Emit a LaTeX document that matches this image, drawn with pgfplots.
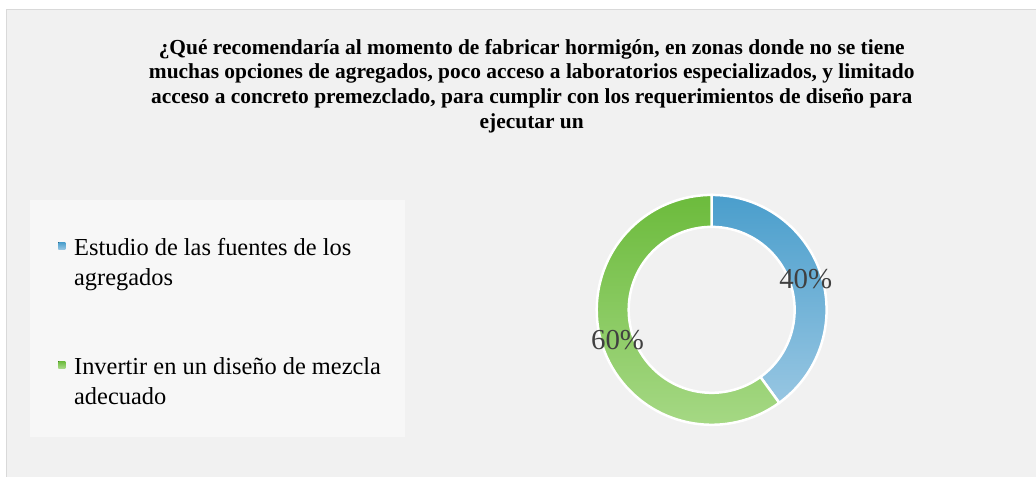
\documentclass[border=0pt]{standalone}
\usepackage{fontspec}
\setmainfont{Liberation Serif}
\usepackage{pgfplots}
\usepackage{pgfplotstable}
\pgfplotsset{compat=1.18}

\definecolor{bgc}{HTML}{F1F1F1}
\definecolor{bordc}{HTML}{D9D9D9}
\definecolor{legc}{HTML}{F7F7F7}
\definecolor{blueA}{HTML}{4A9ECC}
\definecolor{blueB}{HTML}{97C6E2}
\definecolor{greenA}{HTML}{6CBB3C}
\definecolor{greenB}{HTML}{A9DA89}
\definecolor{lblc}{HTML}{404040}

% share of answers, percent
\pgfplotstableread{
label value
Estudio 40
Invertir 60
}\donutdata

\begin{document}
\begin{tikzpicture}
\begin{axis}[
    width=1036bp, height=477bp, scale only axis,
    xmin=0, xmax=1036, ymin=0, ymax=477,
    hide axis, clip=false,
]
% background and frame
\fill[white] (axis cs:0,0) rectangle (axis cs:1036,477);
\fill[bgc] (axis cs:7,0) rectangle (axis cs:1036,467);
\draw[bordc, line width=1bp] (axis cs:7,0) -- (axis cs:7,467) -- (axis cs:1036,467);

% title
\node[align=center, font=\bfseries\fontsize{21.5}{24.7}\selectfont, text=black]
  at (axis cs:532,391) {¿Qué recomendaría al momento de fabricar hormigón, en zonas donde no se tiene\\
  muchas opciones de agregados, poco acceso a laboratorios especializados, y limitado\\
  acceso a concreto premezclado, para cumplir con los requerimientos de diseño para\\
  ejecutar un};

% legend
\fill[legc] (axis cs:30,40) rectangle (axis cs:405,277);
\fill[top color=blueA, bottom color=blueB] (axis cs:58.5,227.5) rectangle (axis cs:65.5,234.5);
\fill[top color=greenA, bottom color=greenB] (axis cs:58.5,108.5) rectangle (axis cs:65.5,115.5);
\node[anchor=west, align=left, inner sep=0pt, font=\fontsize{24.5}{30}\selectfont]
  at (axis cs:74,212) {Estudio de las fuentes de los\\agregados};
\node[anchor=west, align=left, inner sep=0pt, font=\fontsize{24.5}{30}\selectfont]
  at (axis cs:74,96) {Invertir en un diseño de mezcla\\adecuado};

% donut
\pgfplotstablegetelem{0}{value}\of\donutdata \let\va\pgfplotsretval
\pgfplotstablegetelem{1}{value}\of\donutdata \let\vb\pgfplotsretval
\pgfmathsetmacro\angA{90-3.6*\va}
\pgfmathsetmacro\angB{\angA-3.6*\vb}
\pgfmathsetmacro\midA{(90+\angA)/2}
\pgfmathsetmacro\midB{(\angA+\angB)/2}
\path[draw=white, line width=2.5bp, top color=blueA, bottom color=blueB]
  ([shift={(90:115bp)}]axis cs:712,167) arc[start angle=90, end angle=\angA, radius=115bp]
  -- ([shift={(\angA:83bp)}]axis cs:712,167) arc[start angle=\angA, end angle=90, radius=83bp] -- cycle;
\path[draw=white, line width=2.5bp, top color=greenA, bottom color=greenB]
  ([shift={(\angA:115bp)}]axis cs:712,167) arc[start angle=\angA, end angle=\angB, radius=115bp]
  -- ([shift={(\angB:83bp)}]axis cs:712,167) arc[start angle=\angB, end angle=\angA, radius=83bp] -- cycle;
\node[text=lblc, font=\fontsize{29}{29}\selectfont] at ([shift={(\midA:99bp)}]axis cs:712,167) {\va\%};
\node[text=lblc, font=\fontsize{29}{29}\selectfont] at ([shift={(\midB:99bp)}]axis cs:712,167) {\vb\%};
\end{axis}
\end{tikzpicture}
\end{document}
